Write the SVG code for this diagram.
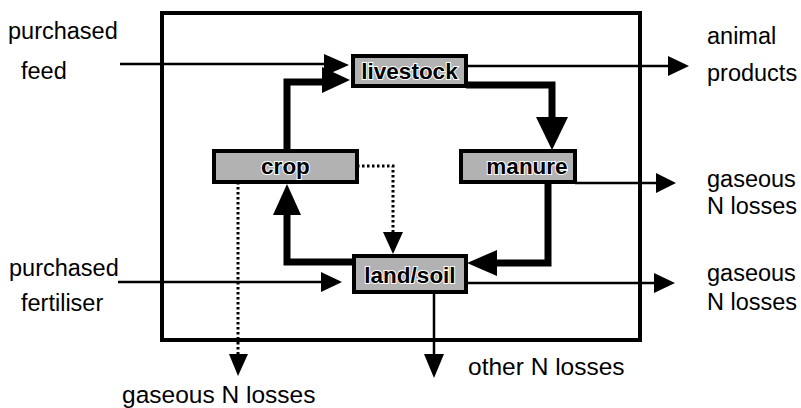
<svg xmlns="http://www.w3.org/2000/svg" width="801" height="408" viewBox="0 0 801 408">
  <style>
    .lbl { font-family: "Liberation Sans", Arial, sans-serif; font-size: 23.5px; fill: #000; }
    .big { font-size: 24.5px; }
    .node rect { fill: #b2b2b2; stroke: #000; stroke-width: 4; }
    .node text { font-family: "Liberation Sans", Arial, sans-serif; font-size: 22.5px; font-weight: bold; fill: #000; stroke: #fff; stroke-width: 2; paint-order: stroke; text-anchor: middle; }
    .thin { fill: none; stroke: #000; stroke-width: 2.5; }
    .thick { fill: none; stroke: #000; stroke-width: 7; stroke-linejoin: miter; }
    .dot { fill: none; stroke: #000; stroke-width: 3; stroke-dasharray: 2.5 2.5; }
    .head { fill: #000; }
  </style>

  <rect id="boundary" x="162" y="13" width="478" height="327" fill="#fff" stroke="#000" stroke-width="4"/>

  <!-- flows -->
  <g id="connectors">
    <!-- purchased feed -> livestock -->
    <line class="thin" x1="120" y1="64" x2="330" y2="64"/>
    <polygon class="head" points="349,65 324,54 324,76"/>
    <!-- crop -> livestock -->
    <polyline class="thick" points="287,151 287,82 325,82"/>
    <polygon class="head" points="350,80 322,67 322,93"/>
    <!-- livestock -> animal products -->
    <line class="thin" x1="466" y1="66" x2="670" y2="66"/>
    <polygon class="head" points="689,66 668,56 668,76"/>
    <!-- livestock -> manure -->
    <polyline class="thick" points="466,85 552,85 552,120"/>
    <polygon class="head" points="552,150 536,117 568,117"/>
    <!-- manure -> gaseous N losses -->
    <line class="thin" x1="575" y1="183" x2="658" y2="183"/>
    <polygon class="head" points="676,183 656,173 656,193"/>
    <!-- manure -> land/soil -->
    <polyline class="thick" points="548,182 548,263 494,263"/>
    <polygon class="head" points="467,263 497,250 497,276"/>
    <!-- land/soil -> crop -->
    <polyline class="thick" points="354,262 287,262 287,212"/>
    <polygon class="head" points="287,184 273,215 301,215"/>
    <!-- crop -> land/soil (dotted) -->
    <polyline class="dot" points="357,166 393,166 393,234"/>
    <polygon class="head" points="393,254 383,232 403,232"/>
    <!-- crop -> gaseous N losses (dotted) -->
    <line class="dot" x1="238" y1="182" x2="238" y2="356"/>
    <polygon class="head" points="238,376 229,354 248,354"/>
    <!-- purchased fertiliser -> land/soil -->
    <line class="thin" x1="118" y1="282" x2="325" y2="282"/>
    <polygon class="head" points="342,282 321,272 321,292"/>
    <!-- land/soil -> gaseous N losses -->
    <line class="thin" x1="466" y1="283" x2="656" y2="283"/>
    <polygon class="head" points="675,283 654,273 654,293"/>
    <!-- land/soil -> other N losses -->
    <line class="thin" x1="434" y1="292" x2="434" y2="356"/>
    <polygon class="head" points="434,378 424,354 444,354"/>
  </g>

  <g id="livestock" class="node">
    <rect x="353" y="56" width="113" height="30"/>
    <text x="409.5" y="79">livestock</text>
  </g>
  <g id="crop" class="node">
    <rect x="214" y="151" width="143" height="31"/>
    <text x="285.5" y="174">crop</text>
  </g>
  <g id="manure" class="node">
    <rect x="461" y="151" width="114" height="31"/>
    <text x="527" y="174">manure</text>
  </g>
  <g id="land-soil" class="node">
    <rect x="354" y="256" width="112" height="36"/>
    <text x="410" y="283">land/soil</text>
  </g>

  <!-- external inputs and outputs -->
  <g id="labels">
    <text class="lbl" x="8" y="39">purchased</text>
    <text class="lbl" x="21" y="79">feed</text>
    <text class="lbl" x="9" y="276">purchased</text>
    <text class="lbl" x="21" y="311">fertiliser</text>
    <text class="lbl" x="707" y="44">animal</text>
    <text class="lbl" x="707" y="81">products</text>
    <text class="lbl" x="707" y="187">gaseous</text>
    <text class="lbl" x="707" y="214">N losses</text>
    <text class="lbl" x="707" y="281">gaseous</text>
    <text class="lbl" x="707" y="310">N losses</text>
    <text class="lbl big" x="468" y="375">other N losses</text>
    <text class="lbl big" x="122" y="403">gaseous N losses</text>
  </g>
</svg>
